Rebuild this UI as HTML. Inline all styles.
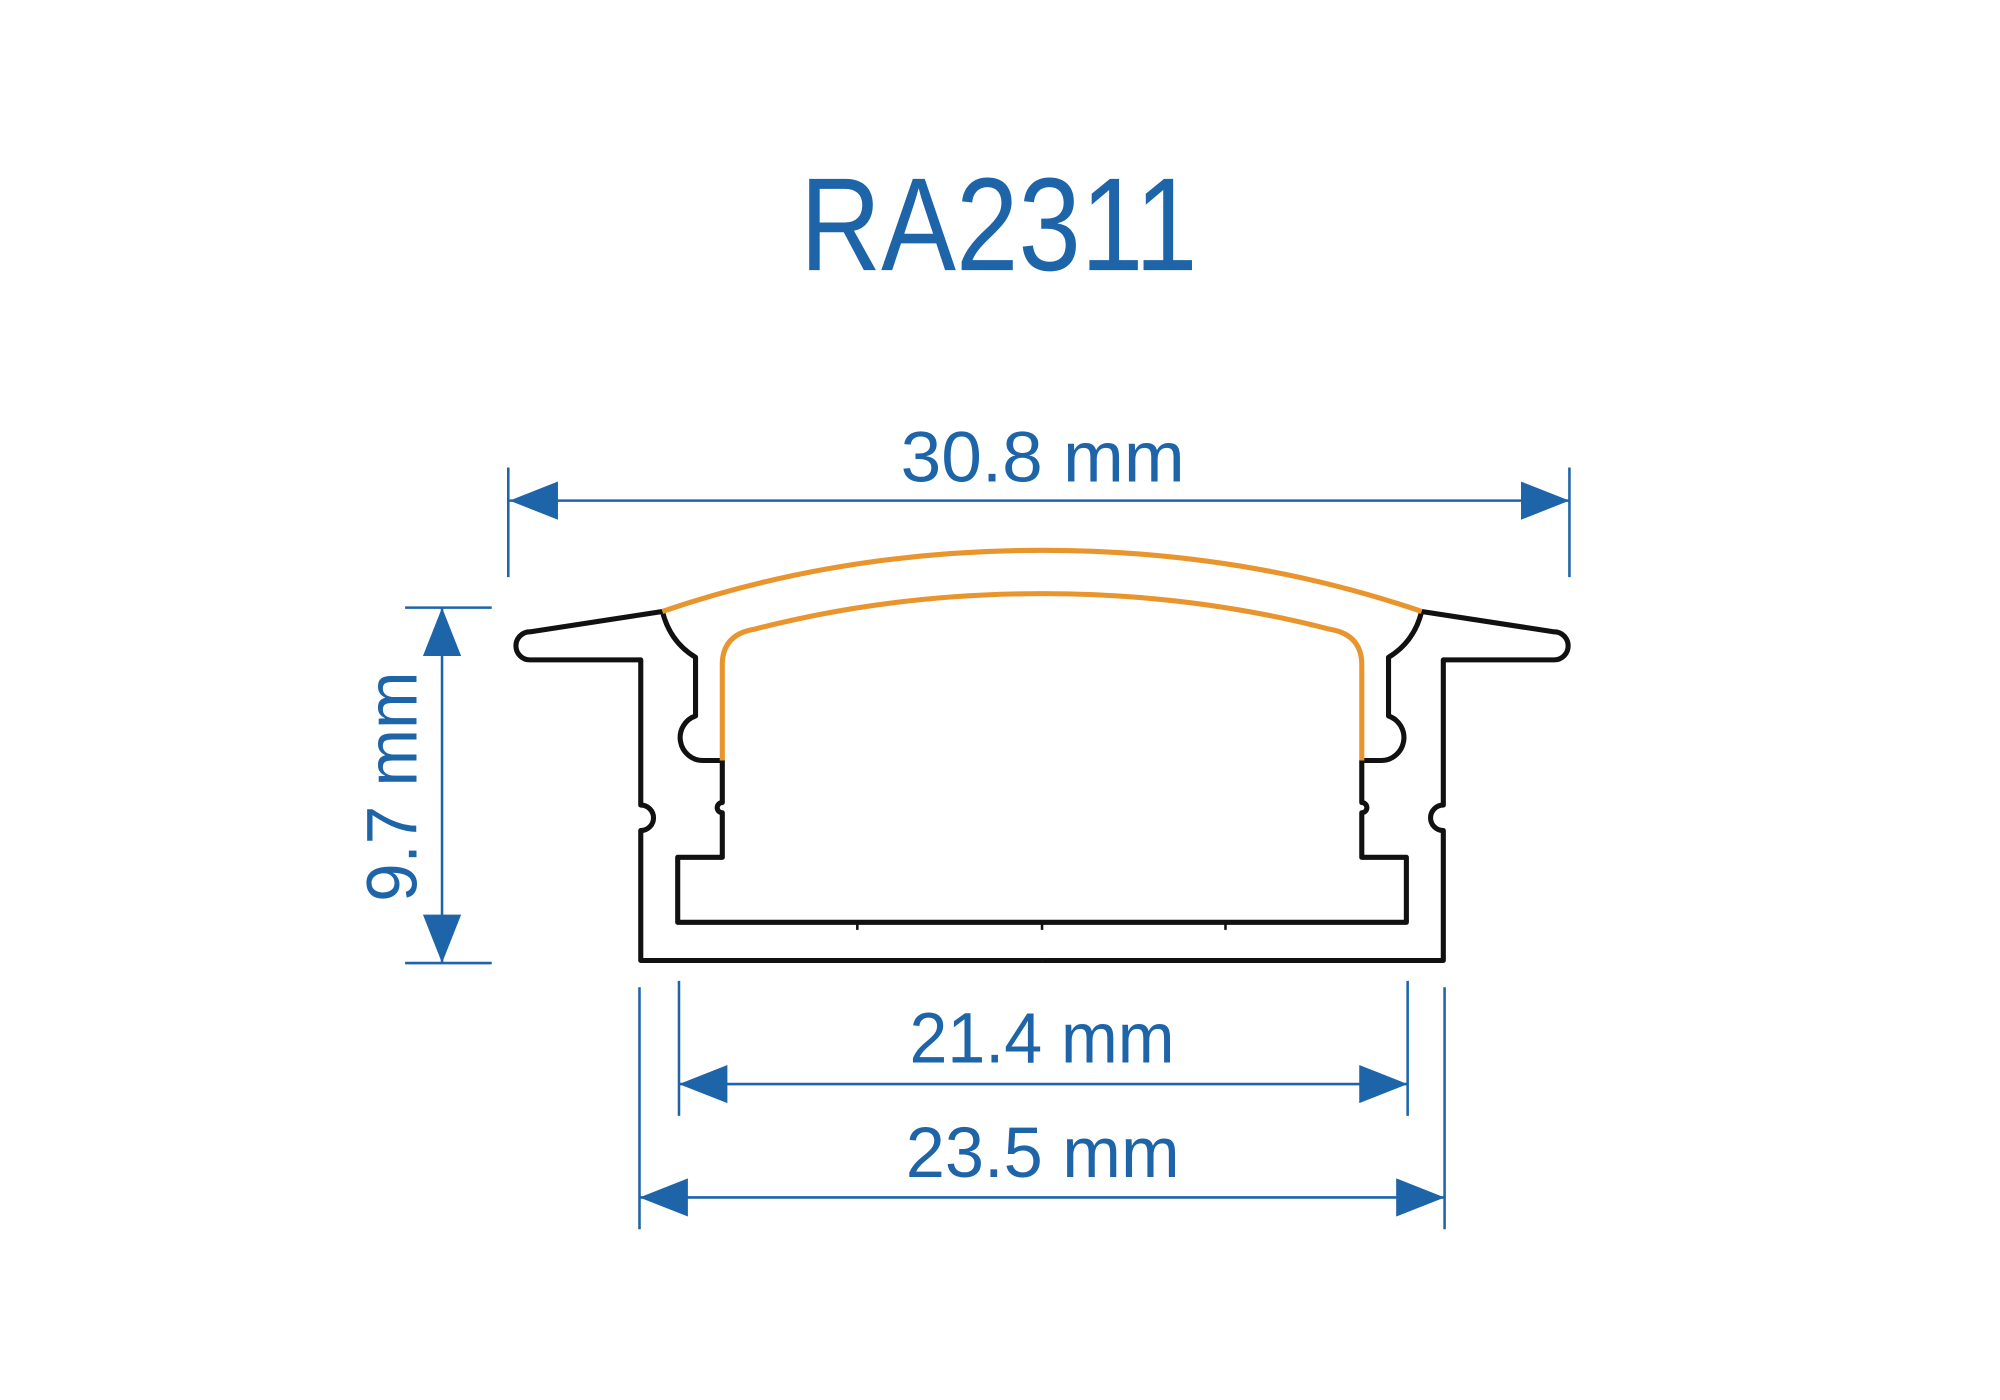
<!DOCTYPE html>
<html><head><meta charset="utf-8"><style>
html,body{margin:0;padding:0;background:#fff;width:2000px;height:1400px;overflow:hidden}
svg{display:block}
text{font-family:"Liberation Sans",sans-serif;fill:#1e64a8}
</style></head><body>
<svg width="2000" height="1400" viewBox="0 0 1570 1099" preserveAspectRatio="none">
<defs>
<g id="half">
<path d="M520,480 L416,496 A11,11 0 0 0 416,518 L503,518 L503,632 A10,10 0 0 1 503,652 L503,754 L818,754" fill="none" stroke="#111" stroke-width="4" stroke-linejoin="round"/>
<path d="M520,480 Q526,504 546,516 L546,562 A18,18 0 0 0 552,597 L567,597 L567,630 A4,4 0 0 0 567,638 L567,673 L532,673 L532,724 L818,724" fill="none" stroke="#111" stroke-width="4" stroke-linejoin="round"/>
<path d="M520,480 Q660,432 818,432" fill="none" stroke="#e8952e" stroke-width="4"/>
<path d="M567,597 L567,520 Q568,498 592,494 Q700,466 818,466" fill="none" stroke="#e8952e" stroke-width="4"/>
</g>
</defs>
<use href="#half"/>
<use href="#half" transform="translate(1636,0) scale(-1,1)"/>
<path d="M673,724 l0,6 M962,724 l0,6 M818,724 l0,6" stroke="#111" stroke-width="2"/>
<text x="628" y="212" font-size="104" textLength="312" lengthAdjust="spacingAndGlyphs">RA2311</text>
<g stroke="#1e64a8" stroke-width="2" fill="#1e64a8">
<line x1="399" y1="367" x2="399" y2="453"/><line x1="1232" y1="367" x2="1232" y2="453"/>
<line x1="400" y1="393" x2="1232" y2="393"/>
<path d="M400,393 l38,-15 l0,30z M1232,393 l-38,-15 l0,30z" stroke="none"/>
<line x1="318" y1="477" x2="386" y2="477"/><line x1="318" y1="756" x2="386" y2="756"/>
<line x1="347" y1="477" x2="347" y2="756"/>
<path d="M347,477 l-15,38 l30,0z M347,756 l-15,-38 l30,0z" stroke="none"/>
<line x1="533" y1="770" x2="533" y2="876"/><line x1="1105" y1="770" x2="1105" y2="876"/>
<line x1="533" y1="851" x2="1105" y2="851"/>
<path d="M533,851 l38,-15 l0,30z M1105,851 l-38,-15 l0,30z" stroke="none"/>
<line x1="502" y1="775" x2="502" y2="965"/><line x1="1134" y1="775" x2="1134" y2="965"/>
<line x1="502" y1="940" x2="1134" y2="940"/>
<path d="M502,940 l38,-15 l0,30z M1134,940 l-38,-15 l0,30z" stroke="none"/>
</g>
<text x="707" y="378" font-size="56" textLength="223" lengthAdjust="spacingAndGlyphs">30.8 mm</text>
<text x="714" y="834" font-size="56" textLength="208" lengthAdjust="spacingAndGlyphs">21.4 mm</text>
<text x="711" y="924" font-size="56" textLength="215" lengthAdjust="spacingAndGlyphs">23.5 mm</text>
<text transform="translate(327,708) rotate(-90)" font-size="56" textLength="181" lengthAdjust="spacingAndGlyphs">9.7 mm</text>
</svg>
</body></html>
